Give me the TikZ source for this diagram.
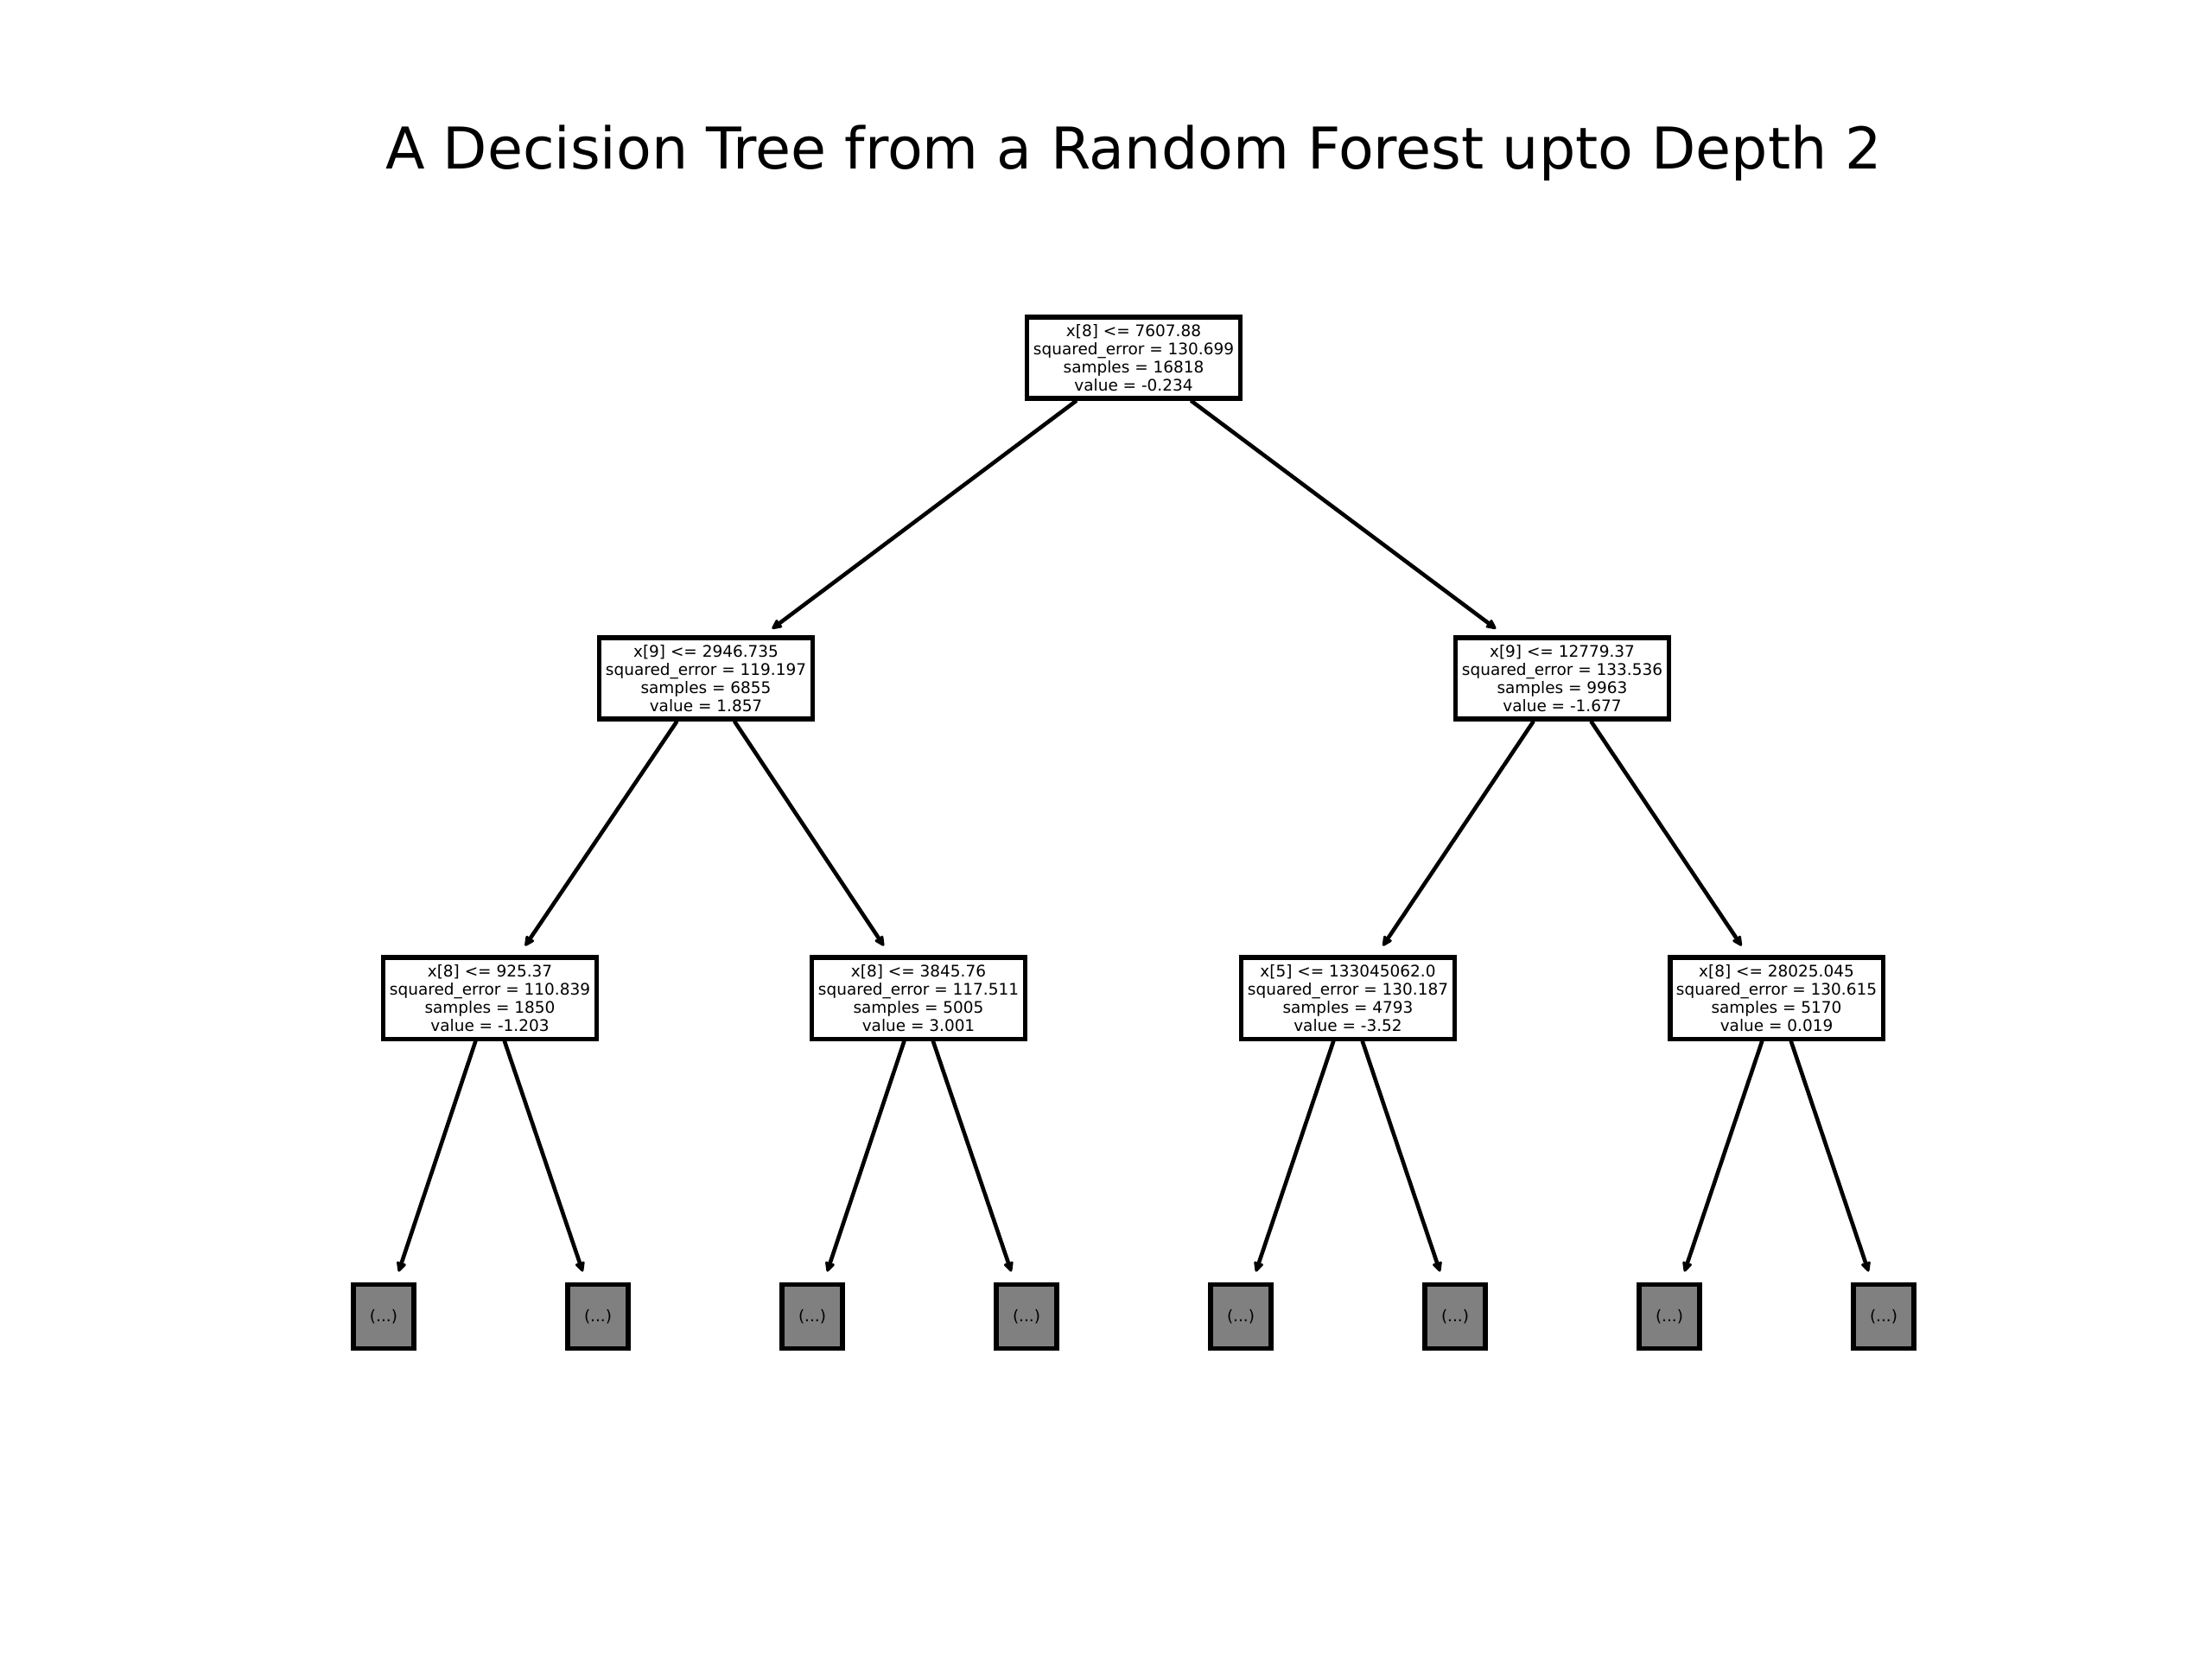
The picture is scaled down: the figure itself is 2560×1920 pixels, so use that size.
\documentclass[tikz,border=0pt]{standalone}
\usepackage{fontspec}
\setmainfont{DejaVu Sans}
\usetikzlibrary{arrows.meta}
\definecolor{leafgray}{RGB}{128,128,128}
\tikzset{
  treebox/.style={draw, line width=1.45pt, fill=white, minimum width=2.46cm, minimum height=0.94cm,
    inner sep=0pt, align=center, font=\fontsize{5.25}{5.95}\selectfont},
  leafbox/.style={draw, line width=1.45pt, fill=leafgray, minimum width=0.70cm, minimum height=0.74cm,
    inner sep=0pt, font=\fontsize{5.25}{5.95}\selectfont},
  edge/.style={line width=1.3pt, -{Stealth[round,length=4pt,width=3.8pt,inset=0.6pt]}, shorten >=0.13cm}
}
\begin{document}
\begin{tikzpicture}[x=0.01cm,y=-0.01cm]
\useasboundingbox (0,0) rectangle (2560,1920);
\node[anchor=base, font=\fontsize{18.95}{22}\selectfont] (title) at (1312,195) {A Decision Tree from a Random Forest upto Depth 2};

\node[treebox] (r) at (1312,414) {x[8] <= 7607.88\\squared\_error = 130.699\\samples = 16818\\value = -0.234};

\node[treebox] (a) at (817,785) {x[9] <= 2946.735\\squared\_error = 119.197\\samples = 6855\\value = 1.857};
\node[treebox] (b) at (1808,785) {x[9] <= 12779.37\\squared\_error = 133.536\\samples = 9963\\value = -1.677};

\node[treebox] (aa) at (567,1155) {x[8] <= 925.37\\squared\_error = 110.839\\samples = 1850\\value = -1.203};
\node[treebox] (ab) at (1063,1155) {x[8] <= 3845.76\\squared\_error = 117.511\\samples = 5005\\value = 3.001};
\node[treebox] (ba) at (1560,1155) {x[5] <= 133045062.0\\squared\_error = 130.187\\samples = 4793\\value = -3.52};
\node[treebox] (bb) at (2056,1155) {x[8] <= 28025.045\\squared\_error = 130.615\\samples = 5170\\value = 0.019};

\node[leafbox] (l1) at (444,1523.5) {(...)};
\node[leafbox] (l2) at (692,1523.5) {(...)};
\node[leafbox] (l3) at (940,1523.5) {(...)};
\node[leafbox] (l4) at (1188,1523.5) {(...)};
\node[leafbox] (l5) at (1436,1523.5) {(...)};
\node[leafbox] (l6) at (1684,1523.5) {(...)};
\node[leafbox] (l7) at (1932,1523.5) {(...)};
\node[leafbox] (l8) at (2180,1523.5) {(...)};

\draw[edge] (r) -- (a);
\draw[edge] (r) -- (b);
\draw[edge] (a) -- (aa);
\draw[edge] (a) -- (ab);
\draw[edge] (b) -- (ba);
\draw[edge] (b) -- (bb);
\draw[edge] (aa) -- (l1);
\draw[edge] (aa) -- (l2);
\draw[edge] (ab) -- (l3);
\draw[edge] (ab) -- (l4);
\draw[edge] (ba) -- (l5);
\draw[edge] (ba) -- (l6);
\draw[edge] (bb) -- (l7);
\draw[edge] (bb) -- (l8);
\end{tikzpicture}
\end{document}
